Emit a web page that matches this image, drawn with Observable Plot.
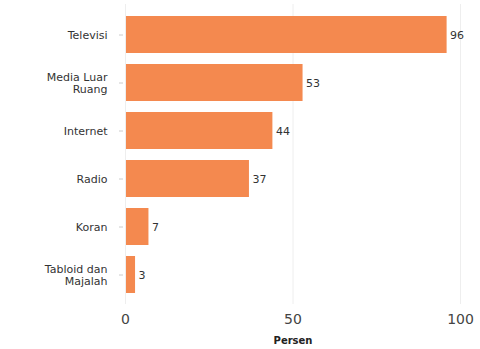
<!DOCTYPE html>
<html><head><meta charset="utf-8">
<script src="https://cdn.jsdelivr.net/npm/d3@7"></script>
<script src="https://cdn.jsdelivr.net/npm/@observablehq/plot@0.6"></script>
<style>body{margin:0;background:#fff;font-family:"DejaVu Sans",Verdana,sans-serif}</style>
</head><body><div id="chart"></div>
<script>
const categories = ["Televisi", "Media Luar\nRuang", "Internet", "Radio", "Koran", "Tabloid dan\nMajalah"];
const values = [96, 53, 44, 37, 7, 3];
const xTicks = [0, 50, 100];
const data = categories.map((c, i) => ({category: c, value: values[i]}));

const chart = Plot.plot({
  width: 480,
  height: 349,
  marginLeft: 125,
  marginRight: 20,
  marginTop: 4,
  marginBottom: 45,
  style: {fontFamily: "DejaVu Sans, Verdana, sans-serif", background: "#fff"},
  x: {domain: [0, 100], ticks: xTicks, label: null},
  y: {domain: categories, padding: 0.23, label: null},
  marks: [
    Plot.gridX(xTicks, {stroke: "#eeeeee", strokeOpacity: 1}),
    Plot.barX(data, {x: "value", y: "category", fill: "#f4894f", insetLeft: 1}),
    Plot.text(data, {x: "value", y: "category", text: d => String(d.value), textAnchor: "start", dx: 3, fontSize: 11, fill: "#333"}),
    Plot.axisY({tickSize: 0, tickPadding: 18, fontSize: 11, fill: "#333", textAnchor: "end", lineHeight: 1.15, label: null}),
    Plot.axisY({text: null, tickSize: 4, stroke: "#ccc", dx: -2, label: null}),
    Plot.axisX(xTicks, {tickSize: 0, tickPadding: 10, fontSize: 14, fill: "#444", label: null}),
    Plot.text(["Persen"], {frameAnchor: "bottom", dy: 39, fontSize: 10, fontWeight: "bold", fill: "#222"})
  ]
});
document.getElementById("chart").appendChild(chart);
</script></body></html>
